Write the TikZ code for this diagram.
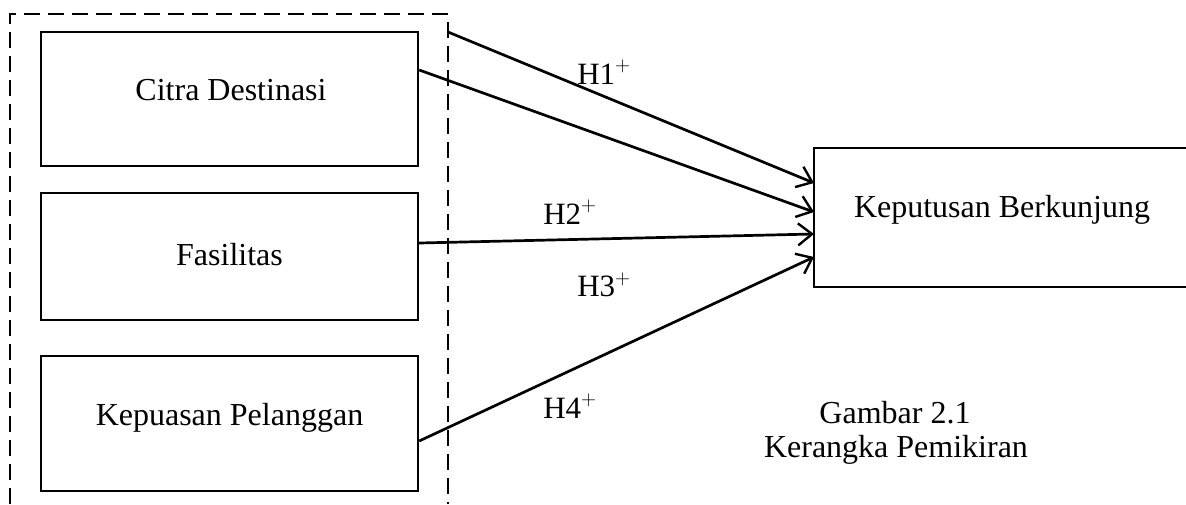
\documentclass[tikz,border=0pt]{standalone}
\usepackage{fontspec}
\setmainfont{Liberation Serif}
\usetikzlibrary{arrows.meta}
\begin{document}
\begin{tikzpicture}[x=1pt,y=-1pt,
  varbox/.style={draw, line width=2.4pt, rectangle, inner sep=0pt,
    minimum width=377pt},
  boxtext/.style={font=\fontsize{32}{37}\selectfont, inner sep=0pt, anchor=center},
  hyp/.style={font=\fontsize{31}{35}\selectfont, inner sep=0pt},
  path/.style={line width=2.7pt, -{Straight Barb[length=14pt,width=22pt,line width=2.4pt]}},
  group/.style={line width=2pt, dash pattern=on 16pt off 8pt}]
\useasboundingbox (0,0) rectangle (1186,504);

% independent variables
\node[varbox, minimum height=134pt] (cd) at (229.5,99) {};
\node[varbox, minimum height=127pt] (fa) at (229.5,256.5) {};
\node[varbox, minimum height=135pt] (kp) at (229.5,423.5) {};
\node[boxtext] (cdt) at (231,90) {Citra Destinasi};
\node[boxtext] (fat) at (229.5,255) {Fasilitas};
\node[boxtext] (kpt) at (229.5,418) {Kepuasan Pelanggan};

% dependent variable (box runs off the right edge)
\node[rectangle, inner sep=0pt, minimum width=373pt, minimum height=139pt] (kb) at (1000.5,217.5) {};
\draw[line width=2.4pt] (kb.north east) -- (kb.north west) -- (kb.south west) -- (kb.south east);
\node[boxtext] (kbt) at (1002,210) {Keputusan Berkunjung};

% dashed grouping frame, open at the bottom
\coordinate (gbl) at (9.5,504);
\coordinate (gtl) at (9.5,14);
\coordinate (gtr) at (448,14);
\coordinate (gbr) at (448,504);
\draw[group] (gbl) -- (gtl) -- (gtr) -- (gbr);

% hypothesised paths
\coordinate (h1s) at (448,32);
\coordinate (t1) at (814,183);
\coordinate (t2) at (814,212);
\coordinate (t3) at (814,234);
\coordinate (t4) at (814,257);
\draw[path] (h1s) -- (t1);
\draw[path] (cd.east |- 0,70) -- (t2);
\draw[path] (fa.east |- 0,243) -- (t3);
\draw[path] (kp.east |- 0,441) -- (t4);

\node[hyp] (h1) at (604,72) {$\mathrm{H1}^{\mathbf{+}}$};
\node[hyp] (h2) at (570,212) {$\mathrm{H2}^{\mathbf{+}}$};
\node[hyp] (h3) at (604,285) {$\mathrm{H3}^{\mathbf{+}}$};
\node[hyp] (h4) at (570,406) {$\mathrm{H4}^{\mathbf{+}}$};

% caption
\node[boxtext] (cap1) at (895,413) {Gambar 2.1};
\node[boxtext] (cap2) at (896,450) {Kerangka Pemikiran};
\end{tikzpicture}
\end{document}
